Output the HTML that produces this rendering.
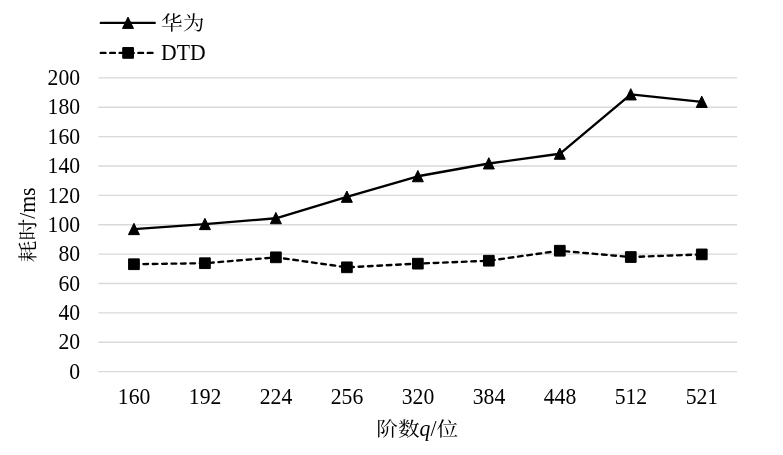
<!DOCTYPE html>
<html lang="zh-CN">
<head>
<meta charset="utf-8">
<title>华为 DTD 耗时/ms 阶数q/位</title>
<style>
html,body{margin:0;padding:0;background:#fff;}
body{width:783px;height:455px;overflow:hidden;position:relative;}
svg{display:block;position:absolute;left:0;top:0;}
text,.t{font-family:"Liberation Serif","Noto Serif CJK SC",serif;font-size:21.7px;fill:#000;color:#000;}
.t{position:absolute;white-space:nowrap;line-height:21.7px;height:21.7px;margin:0;padding:0;}
.c,.l{display:inline-block;line-height:21.7px;transform-origin:50% 84%;}
.c{transform:scaleY(0.885);}
.l{transform:scaleY(1.05);}
.grid line{stroke:#d9d9d9;stroke-width:1.4;}
.ln{fill:none;stroke:#000;stroke-width:2.35;stroke-linejoin:round;stroke-linecap:round;}
.dash{stroke-dasharray:4.7 4.7;}
.mk{fill:#000;stroke:#000;stroke-width:1;stroke-linejoin:round;}
#xt{left:317.2px;top:419.4px;width:200px;text-align:center;}
#yt{left:-71.4px;top:213.5px;width:200px;text-align:center;transform:rotate(-90deg);transform-origin:50% 50%;}
#l1{left:161.0px;top:13.2px;}
</style>
</head>
<body>
<svg width="783" height="455" viewBox="0 0 783 455">
<rect x="0" y="0" width="783" height="455" fill="#ffffff"/>
<g class="grid">
<line x1="98.30" y1="371.60" x2="737.10" y2="371.60"/>
<line x1="98.30" y1="342.23" x2="737.10" y2="342.23"/>
<line x1="98.30" y1="312.85" x2="737.10" y2="312.85"/>
<line x1="98.30" y1="283.48" x2="737.10" y2="283.48"/>
<line x1="98.30" y1="254.10" x2="737.10" y2="254.10"/>
<line x1="98.30" y1="224.73" x2="737.10" y2="224.73"/>
<line x1="98.30" y1="195.35" x2="737.10" y2="195.35"/>
<line x1="98.30" y1="165.98" x2="737.10" y2="165.98"/>
<line x1="98.30" y1="136.60" x2="737.10" y2="136.60"/>
<line x1="98.30" y1="107.23" x2="737.10" y2="107.23"/>
<line x1="98.30" y1="77.85" x2="737.10" y2="77.85"/>
</g>
<text transform="translate(80.10,85.05) scale(1,1.05)" text-anchor="end">200</text>
<text transform="translate(80.10,114.43) scale(1,1.05)" text-anchor="end">180</text>
<text transform="translate(80.10,143.80) scale(1,1.05)" text-anchor="end">160</text>
<text transform="translate(80.10,173.18) scale(1,1.05)" text-anchor="end">140</text>
<text transform="translate(80.10,202.55) scale(1,1.05)" text-anchor="end">120</text>
<text transform="translate(80.10,231.93) scale(1,1.05)" text-anchor="end">100</text>
<text transform="translate(80.10,261.30) scale(1,1.05)" text-anchor="end">80</text>
<text transform="translate(80.10,290.68) scale(1,1.05)" text-anchor="end">60</text>
<text transform="translate(80.10,320.05) scale(1,1.05)" text-anchor="end">40</text>
<text transform="translate(80.10,349.43) scale(1,1.05)" text-anchor="end">20</text>
<text transform="translate(80.10,378.80) scale(1,1.05)" text-anchor="end">0</text>
<text transform="translate(134.09,404.00) scale(1,1.05)" text-anchor="middle">160</text>
<text transform="translate(205.07,404.00) scale(1,1.05)" text-anchor="middle">192</text>
<text transform="translate(276.04,404.00) scale(1,1.05)" text-anchor="middle">224</text>
<text transform="translate(347.02,404.00) scale(1,1.05)" text-anchor="middle">256</text>
<text transform="translate(418.00,404.00) scale(1,1.05)" text-anchor="middle">320</text>
<text transform="translate(488.98,404.00) scale(1,1.05)" text-anchor="middle">384</text>
<text transform="translate(559.96,404.00) scale(1,1.05)" text-anchor="middle">448</text>
<text transform="translate(630.93,404.00) scale(1,1.05)" text-anchor="middle">512</text>
<text transform="translate(701.91,404.00) scale(1,1.05)" text-anchor="middle">521</text>
<polyline class="ln" points="133.94,229.13 204.92,224.14 275.89,218.26 346.87,196.82 417.85,176.26 488.83,163.48 559.81,153.78 630.78,94.45 701.76,101.94"/>
<polygon class="mk" points="133.94,223.33 139.44,234.63 128.44,234.63"/>
<polygon class="mk" points="204.92,218.34 210.42,229.64 199.42,229.64"/>
<polygon class="mk" points="275.89,212.46 281.39,223.76 270.39,223.76"/>
<polygon class="mk" points="346.87,191.02 352.37,202.32 341.37,202.32"/>
<polygon class="mk" points="417.85,170.46 423.35,181.76 412.35,181.76"/>
<polygon class="mk" points="488.83,157.68 494.33,168.98 483.33,168.98"/>
<polygon class="mk" points="559.81,147.98 565.31,159.28 554.31,159.28"/>
<polygon class="mk" points="630.78,88.65 636.28,99.95 625.28,99.95"/>
<polygon class="mk" points="701.76,96.14 707.26,107.44 696.26,107.44"/>
<polyline class="ln dash" points="133.94,264.23 204.92,263.21 275.89,257.33 346.87,267.32 417.85,263.65 488.83,260.71 559.81,250.72 630.78,257.04 701.76,254.39"/>
<rect class="mk" x="128.59" y="258.88" width="10.70" height="10.70"/>
<rect class="mk" x="199.57" y="257.86" width="10.70" height="10.70"/>
<rect class="mk" x="270.54" y="251.98" width="10.70" height="10.70"/>
<rect class="mk" x="341.52" y="261.97" width="10.70" height="10.70"/>
<rect class="mk" x="412.50" y="258.30" width="10.70" height="10.70"/>
<rect class="mk" x="483.48" y="255.36" width="10.70" height="10.70"/>
<rect class="mk" x="554.46" y="245.37" width="10.70" height="10.70"/>
<rect class="mk" x="625.43" y="251.69" width="10.70" height="10.70"/>
<rect class="mk" x="696.41" y="249.04" width="10.70" height="10.70"/>
<line class="ln" x1="100.8" y1="22.9" x2="154.7" y2="22.9"/>
<polygon class="mk" points="128.00,17.10 133.50,28.40 122.50,28.40"/>
<line class="ln dash" x1="100.8" y1="52.9" x2="154.7" y2="52.9"/>
<rect class="mk" x="122.75" y="47.55" width="10.70" height="10.70"/>
<text transform="translate(161.00,60.10) scale(1,1.05)">DTD</text>
</svg>
<div class="t" id="l1"><span class="c">华为</span></div>
<div class="t" id="yt"><span class="c">耗时</span><span class="l">/ms</span></div>
<div class="t" id="xt"><span class="c">阶数</span><span class="l"><i>q</i>/</span><span class="c">位</span></div>
</body>
</html>
